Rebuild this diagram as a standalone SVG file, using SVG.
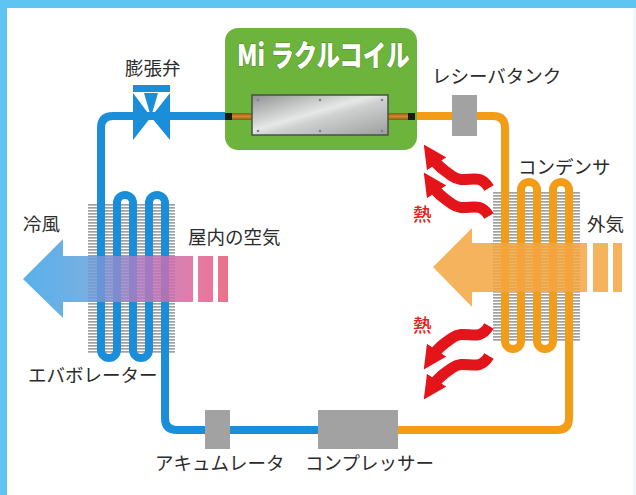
<svg xmlns="http://www.w3.org/2000/svg" width="636" height="495" viewBox="0 0 636 495">
  <style>
    .lbl { font-family: "Noto Sans CJK JP", "Noto Sans", sans-serif; font-size: 18.5px; fill: #2b2b2b; }
    .heat { font-family: "Noto Sans CJK JP", sans-serif; font-size: 18.5px; font-weight: 500; fill: #e2231a; }
    .title { font-family: "Noto Sans CJK JP", "Liberation Sans", sans-serif; font-size: 30px; font-weight: 900; fill: #ffffff; stroke: #4f8f25; stroke-width: 1.2; paint-order: stroke; }
    .blue { fill: none; stroke: #1b8ed9; stroke-width: 8; }
    .orange { fill: none; stroke: #f39c17; stroke-width: 8; }
    .unit { fill: #a2a2a2; }
    .heatpath { fill: none; stroke: #e3151a; stroke-width: 11; stroke-linecap: butt; }
  </style>
  <defs>
    <pattern id="fins" width="6" height="3" patternUnits="userSpaceOnUse">
      <rect x="0" y="0" width="6" height="1.7" fill="#a0a0a0"/>
    </pattern>
    <linearGradient id="plate" x1="0" y1="0" x2="1" y2="1">
      <stop offset="0" stop-color="#8f9090"/>
      <stop offset="0.45" stop-color="#e6e7e7"/>
      <stop offset="0.55" stop-color="#cfd0d0"/>
      <stop offset="1" stop-color="#9c9d9d"/>
    </linearGradient>
    <linearGradient id="copper" x1="0" y1="0" x2="0" y2="1">
      <stop offset="0" stop-color="#8a5a16"/>
      <stop offset="0.5" stop-color="#d08a2c"/>
      <stop offset="1" stop-color="#8a5a16"/>
    </linearGradient>
    <linearGradient id="coldAir" x1="23" y1="0" x2="228" y2="0" gradientUnits="userSpaceOnUse">
      <stop offset="0" stop-color="#3aa4e8"/>
      <stop offset="0.3" stop-color="#5fa2de"/>
      <stop offset="0.6" stop-color="#b878bd"/>
      <stop offset="0.85" stop-color="#e06498"/>
      <stop offset="1" stop-color="#e85a72"/>
    </linearGradient>
    <marker id="heatHead" viewBox="0 0 10 10" refX="2" refY="5" markerWidth="2.1" markerHeight="2.1" orient="auto" markerUnits="strokeWidth">
      <path d="M0,0 L10,5 L0,10 z" fill="#e3151a"/>
    </marker>
  </defs>

  <!-- frame -->
  <g id="frame">
    <rect x="0" y="0" width="636" height="495" fill="#ffffff"/>
    <rect x="0" y="0" width="636" height="8" fill="#5ec4f2"/>
    <rect x="0" y="0" width="7" height="495" fill="#5ec4f2"/>
    <rect x="633" y="8" width="3" height="487" fill="#eef8fd"/>
  </g>

  <!-- heat exchanger fins -->
  <g id="evaporator-fins">
    <rect x="88" y="203" width="87" height="150" fill="url(#fins)"/>
  </g>
  <g id="condenser-fins">
    <rect x="493" y="192" width="87" height="150" fill="url(#fins)"/>
  </g>

  <!-- refrigerant piping -->
  <g id="connectors">
    <path class="blue" d="M225,116 H113 Q101,116 101,128 V350 a8,8 0 0 0 16,0 V203 a8,8 0 0 1 16,0 V350 a8,8 0 0 0 16,0 V203 a8,8 0 0 1 16,0 V418 Q165,430 177,430 H318"/>
    <path class="orange" d="M415,116 H493 Q505,116 505,128 V341 a8,8 0 0 0 16,0 V190 a8,8 0 0 1 16,0 V341 a8,8 0 0 0 16,0 V190 a8,8 0 0 1 16,0 V418 Q569,430 557,430 H398"/>
  </g>

  <!-- airflow arrows -->
  <g id="cold-air" opacity="0.85">
    <polygon points="23,279 63,239 63,256 193,256 193,302 63,302 63,318" fill="url(#coldAir)"/>
    <rect x="198" y="256" width="15" height="46" fill="url(#coldAir)"/>
    <rect x="218" y="256" width="10" height="46" fill="url(#coldAir)"/>
  </g>
  <g id="outside-air" opacity="0.85">
    <polygon points="433,267 472,228 472,243 587,243 587,292 472,292 472,307" fill="#f5a641"/>
    <rect x="593" y="243" width="15" height="49" fill="#f5a641"/>
    <rect x="613" y="243" width="9" height="49" fill="#f5a641"/>
  </g>

  <!-- expansion valve -->
  <g id="expansion-valve" fill="#1b8ed9">
    <rect x="133" y="85" width="37" height="7"/>
    <polygon points="133,93 133,140 151,117"/>
    <polygon points="170,93 170,140 151,117"/>
    <polygon points="144,93 158,93 151,117"/>
  </g>

  <!-- Mi coil -->
  <g id="mi-coil">
    <rect x="225" y="28" width="192" height="122" rx="13" fill="#6cb43c"/>
    <rect x="225" y="113" width="7" height="7" fill="#1a1a1a"/>
    <rect x="232" y="113" width="20" height="7" fill="url(#copper)"/>
    <rect x="388" y="113" width="20" height="7" fill="url(#copper)"/>
    <rect x="408" y="113" width="7" height="7" fill="#1a1a1a"/>
    <rect x="252" y="95" width="136" height="40" fill="url(#plate)" stroke="#4a4f4a" stroke-width="1.5"/>
    <g fill="#8a7aa0">
      <circle cx="258" cy="100" r="1.3"/><circle cx="320" cy="100" r="1.3"/><circle cx="382" cy="100" r="1.3"/>
      <circle cx="258" cy="131" r="1.3"/><circle cx="320" cy="131" r="1.3"/><circle cx="382" cy="131" r="1.3"/>
    </g>
    <text class="title" transform="translate(237,66) scale(0.78,1)">Mi ラクルコイル</text>
  </g>

  <!-- receiver, accumulator, compressor -->
  <g id="receiver-tank"><rect class="unit" x="452" y="95" width="25" height="41"/></g>
  <g id="accumulator"><rect class="unit" x="205" y="410" width="25" height="39"/></g>
  <g id="compressor"><rect class="unit" x="318" y="410" width="80" height="39"/></g>

  <!-- heat released from the condenser -->
  <g id="heat-arrows">
    <path class="heatpath" marker-end="url(#heatHead)" d="M489,188 C478,170 466,186 452,176 C442,169 438,166 434,160"/>
    <path class="heatpath" marker-end="url(#heatHead)" d="M489,216 C478,198 466,214 452,204 C442,197 438,194 434,188"/>
    <path class="heatpath" marker-end="url(#heatHead)" d="M489,326 C478,344 466,328 452,338 C442,345 438,348 434,354"/>
    <path class="heatpath" marker-end="url(#heatHead)" d="M489,356 C478,374 466,358 452,368 C442,375 438,378 434,384"/>
    <text class="heat" x="413" y="221">熱</text>
    <text class="heat" x="413" y="332">熱</text>
  </g>

  <!-- labels -->
  <g id="labels">
    <text class="lbl" x="125" y="75">膨張弁</text>
    <text class="lbl" x="432" y="83">レシーバタンク</text>
    <text class="lbl" x="518" y="174">コンデンサ</text>
    <text class="lbl" x="587" y="231">外気</text>
    <text class="lbl" x="23" y="231">冷風</text>
    <text class="lbl" x="188" y="244">屋内の空気</text>
    <text class="lbl" x="28" y="382">エバボレーター</text>
    <text class="lbl" x="155" y="470">アキュムレータ</text>
    <text class="lbl" x="305" y="470">コンプレッサー</text>
  </g>
</svg>
